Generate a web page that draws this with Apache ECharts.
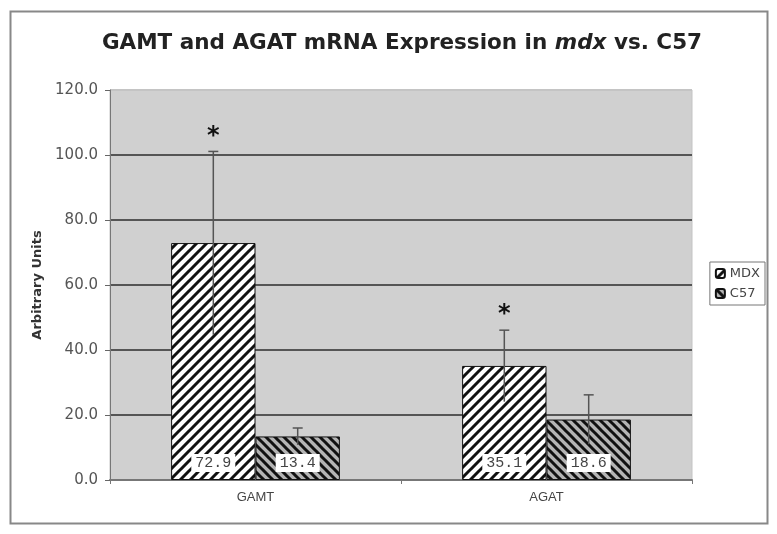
<!DOCTYPE html>
<html><head><meta charset="utf-8">
<script src="https://cdn.jsdelivr.net/npm/echarts@6/dist/echarts.min.js"></script>
<style>html,body{margin:0;padding:0;background:#fff}#c{width:777px;height:534px}</style>
</head><body><div id="c"></div>
<script>
const categories = ['GAMT', 'AGAT'];
const seriesNames = ['MDX', 'C57'];
const mdxValues = [72.9, 35.1];
const c57Values = [13.4, 18.6];
const mdxErrors = [28.2, 11.0];
const c57Errors = [2.6, 7.6];
const mdxStars = [true, true];
const c57Stars = [false, false];
const yTicks = [0, 20, 40, 60, 80, 100, 120];

function hatch(bg, fg, dir, size, lw) {
  const c = document.createElement('canvas');
  c.width = size; c.height = size;
  const g = c.getContext('2d');
  g.fillStyle = bg; g.fillRect(0, 0, size, size);
  g.strokeStyle = fg; g.lineWidth = lw; g.lineCap = 'square';
  g.beginPath();
  if (dir === '/') {
    for (let k = -1; k <= 1; k++) { g.moveTo(k * size - 1, size + 1); g.lineTo(k * size + size + 1, -1); }
  } else {
    for (let k = -1; k <= 1; k++) { g.moveTo(k * size - 1, -1); g.lineTo(k * size + size + 1, size + 1); }
  }
  g.stroke();
  return { image: c, repeat: 'repeat' };
}
const mdxFill = hatch('#ffffff', '#111111', '/', 10, 3);
const c57Fill = hatch('#b4b4b4', '#111111', '\\', 9, 3);

const errData = [];
categories.forEach((c, i) => {
  errData.push([i, mdxValues[i], mdxErrors[i], -1, mdxStars[i] ? 1 : 0]);
  errData.push([i, c57Values[i], c57Errors[i], 1, c57Stars[i] ? 1 : 0]);
});

const chart = echarts.init(document.getElementById('c'));
const labelCfg = {
  show: true, position: 'insideBottom', distance: 8,
  backgroundColor: '#fff', padding: [2, 4, 1, 4],
  fontFamily: 'Liberation Mono', fontSize: 15, color: '#444',
  formatter: p => p.value.toFixed(1)
};
chart.setOption({
  animation: false,
  title: {
    text: '{b|GAMT and AGAT mRNA Expression in }{i|mdx}{b| vs. C57}',
    left: 397, top: 27, textAlign: 'center',
    textStyle: { rich: {
      b: { fontFamily: 'DejaVu Sans', fontWeight: 'bold', fontSize: 21.5, color: '#222' },
      i: { fontFamily: 'DejaVu Sans', fontWeight: 'bold', fontStyle: 'italic', fontSize: 21.5, color: '#222' }
    } }
  },
  graphic: [{ type: 'rect', shape: { x: 10.5, y: 11.5, width: 757, height: 512 }, style: { fill: 'none', stroke: '#888', lineWidth: 2 }, silent: true }],
  legend: {
    data: seriesNames, orient: 'vertical', right: 12, top: 262,
    backgroundColor: '#fff', borderColor: '#777', borderWidth: 1,
    padding: [5, 5, 5, 5], itemWidth: 9, itemHeight: 9, itemGap: 7,
    textStyle: { fontFamily: 'DejaVu Sans', fontSize: 13, color: '#444' }
  },
  grid: { left: 110, right: 85, top: 90, bottom: 54, show: true, backgroundColor: '#d0d0d0', borderColor: '#c4c4c4', borderWidth: 1 },
  xAxis: {
    type: 'category', data: categories,
    axisLine: { lineStyle: { color: '#777', width: 2 } },
    axisTick: { show: true, length: 4, lineStyle: { color: '#777' } },
    axisLabel: { fontFamily: 'Liberation Sans', fontSize: 13, color: '#444', margin: 11 }
  },
  yAxis: {
    type: 'value', min: yTicks[0], max: yTicks[yTicks.length - 1], interval: 20,
    name: 'Arbitrary Units', nameLocation: 'middle', nameGap: 62,
    nameTextStyle: { fontFamily: 'DejaVu Sans', fontWeight: 'bold', fontSize: 13, color: '#333' },
    axisLine: { show: true, lineStyle: { color: '#777', width: 1 } },
    axisTick: { show: true, length: 5, lineStyle: { color: '#666' } },
    axisLabel: { fontFamily: 'DejaVu Sans', fontSize: 15, color: '#555', margin: 12, formatter: v => v.toFixed(1) },
    splitLine: { show: true, lineStyle: { color: ['#555', '#555', '#555', '#555', '#555', '#555', '#c4c4c4'], width: 2 } }
  },
  series: [
    { name: seriesNames[0], type: 'bar', data: mdxValues, barGap: '0%', barCategoryGap: '42%',
      itemStyle: { color: mdxFill, borderColor: '#111', borderWidth: 1 }, label: labelCfg, z: 2 },
    { name: seriesNames[1], type: 'bar', data: c57Values,
      itemStyle: { color: c57Fill, borderColor: '#111', borderWidth: 1 }, label: labelCfg, z: 2 },
    { type: 'custom', data: errData, encode: { x: 0, y: 1 }, z: 3,
      renderItem: function (params, api) {
        const cat = api.value(0), v = api.value(1), e = api.value(2), sgn = api.value(3), star = api.value(4);
        const catW = api.size([1, 0])[0];
        const bw = catW * 0.58 / 2;
        const cx = api.coord([cat, v])[0] + sgn * bw / 2;
        const yt = api.coord([cat, v + e])[1];
        const yb = api.coord([cat, v - e])[1];
        const st = { stroke: '#555', lineWidth: 1.5 };
        const ch = [
          { type: 'line', shape: { x1: cx, y1: yb, x2: cx, y2: yt }, style: st },
          { type: 'line', shape: { x1: cx - 5, y1: yt, x2: cx + 5, y2: yt }, style: st }
        ];
        if (star) ch.push({ type: 'text', style: { text: '*', x: cx, y: yt - 15, align: 'center', verticalAlign: 'middle', font: 'bold 24px DejaVu Sans', fill: '#111' } });
        return { type: 'group', children: ch };
      }
    }
  ]
});
</script></body></html>
